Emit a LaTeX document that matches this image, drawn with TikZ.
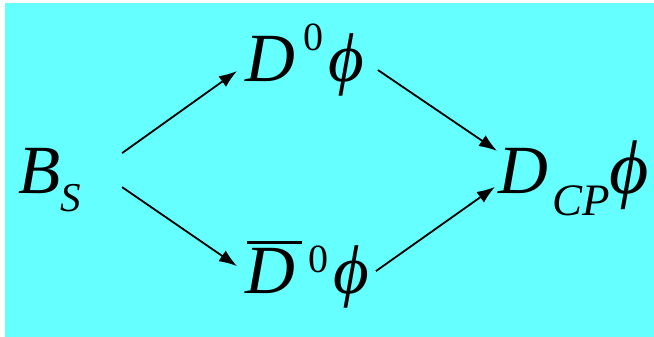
\documentclass[tikz,border=0pt]{standalone}
\usepackage{fontspec}
\newfontfamily\tnr{Liberation Serif}
\newfontfamily\tnrit{Liberation Serif Italic}
\usepackage{tikz}
\usetikzlibrary{arrows.meta}

\definecolor{bgcyan}{HTML}{66FFFF}
\newcommand{\lblsize}[1]{\fontsize{#1}{#1}\selectfont}

\begin{document}
\begin{tikzpicture}[x=1pt, y=-1pt,
    lbl/.style={inner sep=0pt, anchor=base west},
    arr/.style={-{Latex[length=18pt, width=13pt]}, line width=1.8pt}]
  \useasboundingbox (0,0) rectangle (654,337);
  \fill[bgcyan] (5,3) rectangle (654,337);
  % states
  \node[lbl] (bs) at (18,193) {\tnrit\lblsize{69}B\raisebox{-19pt}{\lblsize{41}S}};
  \node[lbl] (dz) at (245,82)
    {\tnrit\lblsize{69}D\kern8pt\raisebox{32pt}{\tnr\lblsize{40}0}\kern5pt ϕ};
  \node[lbl] (dzbar) at (245,293)
    {\tnrit\lblsize{69}\rlap{\kern2pt\rule[49.5pt]{55pt}{3pt}}D\kern13pt\raisebox{21pt}{\tnr\lblsize{40}0}\kern5pt ϕ};
  \node[lbl] (dcp) at (498,193)
    {\tnrit\lblsize{69}D\kern4pt\raisebox{-22pt}{\lblsize{45}CP}{\lblsize{76}ϕ}};
  % decay paths
  \draw[arr] ([shift={(41,-27)}]bs.east) -- ([shift={(-8,11)}]dz.west);
  \draw[arr] ([shift={(41,7)}]bs.east) -- ([shift={(-8,-8)}]dzbar.west);
  \draw[arr] ([shift={(14,10)}]dz.east) -- ([shift={(-1,-27)}]dcp.west);
  \draw[arr] ([shift={(7,-3)}]dzbar.east) -- ([shift={(-3,9)}]dcp.west);
\end{tikzpicture}
\end{document}
